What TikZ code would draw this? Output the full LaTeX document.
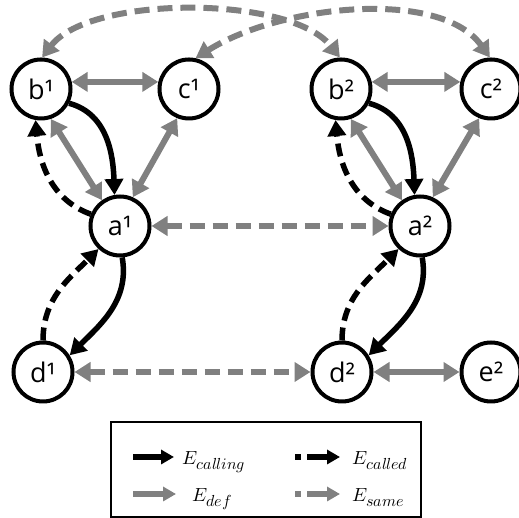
\documentclass[tikz,border=0pt]{standalone}
\usepackage{fontspec}
\usepackage{unicode-math}
\setmainfont{Open Sans}
\setmathfont{Latin Modern Math}
\usetikzlibrary{arrows.meta}
\DeclareMathSizes{19}{19}{16}{12}
\definecolor{edgegray}{RGB}{128,128,128}
\tikzset{
  x=1pt, y=1pt,
  vtx/.style={circle, draw, line width=4pt, minimum size=59pt, inner sep=0pt,
    font=\fontsize{27}{29}\selectfont},
  gdef/.style={draw=edgegray, line width=6pt, {Triangle[length=16pt,width=19pt]}-{Triangle[length=16pt,width=19pt]}},
  gsame/.style={gdef, dash pattern=on 15pt off 8pt},
  calling/.style={draw=black, line width=5.5pt, -{Triangle[length=16pt,width=18pt]}},
  called/.style={calling, dash pattern=on 13pt off 7pt},
  legendbox/.style={draw, line width=2pt, minimum width=310pt, minimum height=95pt, inner sep=0pt},
  legendlbl/.style={anchor=base west, inner sep=0pt, font=\fontsize{19}{22}\selectfont},
}
\begin{document}
\begin{tikzpicture}
\useasboundingbox (0,0) rectangle (519,518);

% vertices of the first graph
\node[vtx] (b1) at (41,429) {b¹};
\node[vtx] (c1) at (189,429) {c¹};
\node[vtx] (a1) at (120,292) {a¹};
\node[vtx] (d1) at (43,146) {d¹};
% vertices of the second graph
\node[vtx] (b2) at (341,429) {b²};
\node[vtx] (c2) at (491,429) {c²};
\node[vtx] (a2) at (420,292) {a²};
\node[vtx] (d2) at (342,146) {d²};
\node[vtx] (e2) at (491,146) {e²};

% definition edges
\draw[gdef] (b1.13) -- (c1.167);
\draw[gdef] (b1.-72) -- (a1.125);
\draw[gdef] (c1.-112) -- (a1.66);
\draw[gdef] (b2.13) -- (c2.167);
\draw[gdef] (b2.-72) -- (a2.125);
\draw[gdef] (c2.-112) -- (a2.66);
\draw[gdef] (d2) -- (e2);

% calling / called edges
\draw[calling] (b1.-27) to[out=-15,in=92] (a1.100);
\draw[called] (a1.158) to[out=160,in=-85] (b1.-100);
\draw[calling] (a1.-86) to[out=-80,in=45] (d1.32);
\draw[called] (d1.90) to[out=90,in=-135] (a1.-133);
\draw[calling] (b2.-27) to[out=-15,in=92] (a2.100);
\draw[called] (a2.158) to[out=160,in=-85] (b2.-100);
\draw[calling] (a2.-86) to[out=-80,in=45] (d2.32);
\draw[called] (d2.90) to[out=90,in=-135] (a2.-133);

% same-entity edges between the graphs
\draw[gsame] (a1) -- (a2);
\draw[gsame] (d1) -- (d2);
\draw[gsame] (b1.88) .. controls (90,523) and (290,523) .. (b2.92);
\draw[gsame] (c1.78) .. controls (280,513) and (440,530) .. (c2.92);

% legend
\node[legendbox] (legend) at (266,48.5) {};
\coordinate (k1s) at (133,61); \coordinate (k1e) at (174,61);
\coordinate (k2s) at (295,61); \coordinate (k2e) at (340,61);
\coordinate (k3s) at (133,24); \coordinate (k3e) at (176,24);
\coordinate (k4s) at (295,24); \coordinate (k4e) at (340,24);
\draw[calling, -{Triangle[length=13pt,width=14pt]}] (k1s) -- (k1e);
\draw[calling, dash pattern=on 6pt off 6pt on 20pt, -{Triangle[length=13pt,width=14pt]}] (k2s) -- (k2e);
\draw[draw=edgegray, line width=5.5pt, -{Triangle[length=13pt,width=14pt]}] (k3s) -- (k3e);
\draw[draw=edgegray, line width=5.5pt, dash pattern=on 6pt off 6pt on 20pt, -{Triangle[length=13pt,width=14pt]}] (k4s) -- (k4e);
\node[legendlbl] (l1) at (182,53) {$E_{calling}$};
\node[legendlbl] (l2) at (352,53) {$E_{called}$};
\node[legendlbl] (l3) at (192,16) {$E_{def}$};
\node[legendlbl] (l4) at (352,16) {$E_{same}$};
\end{tikzpicture}
\end{document}
